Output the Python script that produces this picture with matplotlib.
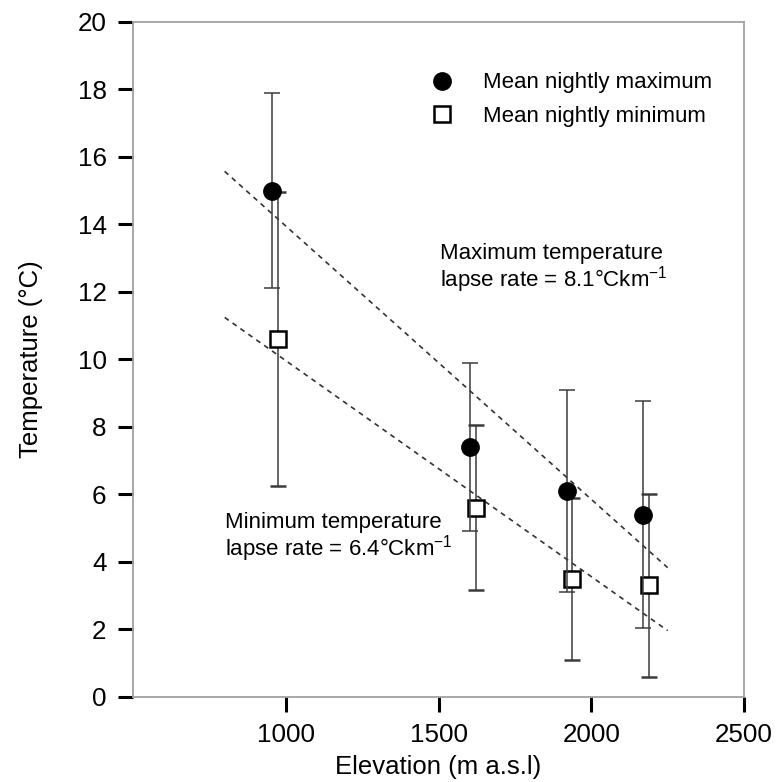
import matplotlib
matplotlib.use("Agg")
import matplotlib.pyplot as plt
from matplotlib.lines import Line2D
import numpy as np

plt.rcParams["font.family"] = ["Liberation Sans", "DejaVu Sans"]
plt.rcParams["mathtext.fontset"] = "custom"
plt.rcParams["mathtext.rm"] = "Liberation Sans"
plt.rcParams["mathtext.it"] = "Liberation Sans"

# Mean nightly maximum temperature by site elevation
elev_max = [955, 1603, 1921, 2170]
tmax = [15.0, 7.4, 6.1, 5.4]
tmax_err = [2.9, 2.5, 3.0, 3.35]

# Mean nightly minimum temperature by site elevation
elev_min = [976, 1623, 1938, 2189]
tmin = [10.6, 5.6, 3.5, 3.3]
tmin_err = [4.35, 2.45, 2.4, 2.7]

# Lapse-rate regression lines (degC per km, intercept at sea level)
rate_max = 8.1
icpt_max = 22.05
rate_min = 6.4
icpt_min = 16.36
fit_range = [800, 2250]

x_ticks = [1000, 1500, 2000, 2500]
y_ticks = [0, 2, 4, 6, 8, 10, 12, 14, 16, 18, 20]

fig = plt.figure(figsize=(7.76, 7.82), dpi=100)
ax = fig.add_axes([0.1714, 0.1090, 0.7874, 0.8631])

bar_col = "#3c3c3c"
fx = np.array(fit_range, dtype=float)
ax.plot(fx, icpt_max - rate_max * fx / 1000.0, ls=(0, (3.0, 2.8)),
        color="#333333", lw=1.2, zorder=1)
ax.plot(fx, icpt_min - rate_min * fx / 1000.0, ls=(0, (3.0, 2.8)),
        color="#333333", lw=1.2, zorder=1)

ax.errorbar(elev_min, tmin, yerr=tmin_err, fmt="s", ms=11.5,
            mfc="white", mec="black", mew=1.8, ecolor=bar_col,
            elinewidth=1.1, capsize=6.0, capthick=1.1, zorder=2)
ax.errorbar(elev_max, tmax, yerr=tmax_err, fmt="o", ms=12.5,
            mfc="black", mec="black", ecolor=bar_col,
            elinewidth=1.1, capsize=6.0, capthick=1.1, zorder=3)

ax.set_xlim(500, 2500)
ax.set_ylim(0, 20)
ax.set_xticks(x_ticks)
ax.set_yticks(y_ticks)
ax.tick_params(axis="both", direction="out", length=11, width=2.2,
               color="black", labelsize=18.7, pad=8)
for sp in ax.spines.values():
    sp.set_color("#a0a0a0")
    sp.set_linewidth(1.3)

ax.set_xlabel("Elevation (m a.s.l)", fontsize=18.5, labelpad=6)
ax.set_ylabel("Temperature (\u00b0C)", fontsize=18.5, labelpad=25)

ax.text(1504, 13.45,
        "Maximum temperature\nlapse rate = %.1f\u00b0Ckm$^{-1}$" % rate_max,
        fontsize=16, va="top", ha="left", linespacing=1.0)
ax.text(801, 5.48,
        "Minimum temperature\nlapse rate = %.1f\u00b0Ckm$^{-1}$" % rate_min,
        fontsize=16, va="top", ha="left", linespacing=1.0)

handles = [
    Line2D([], [], ls="none", marker="o", ms=12.5, mfc="black", mec="black"),
    Line2D([], [], ls="none", marker="s", ms=11.5, mfc="white", mec="black",
           mew=1.8),
]
ax.legend(handles, ["Mean nightly maximum", "Mean nightly minimum"],
          loc="upper left", bbox_to_anchor=(0.4868, 0.925), frameon=False,
          fontsize=16, handlelength=1.0, handletextpad=1.36,
          borderpad=0, borderaxespad=0, labelspacing=0.55)

fig.savefig("out.png", dpi=100)
